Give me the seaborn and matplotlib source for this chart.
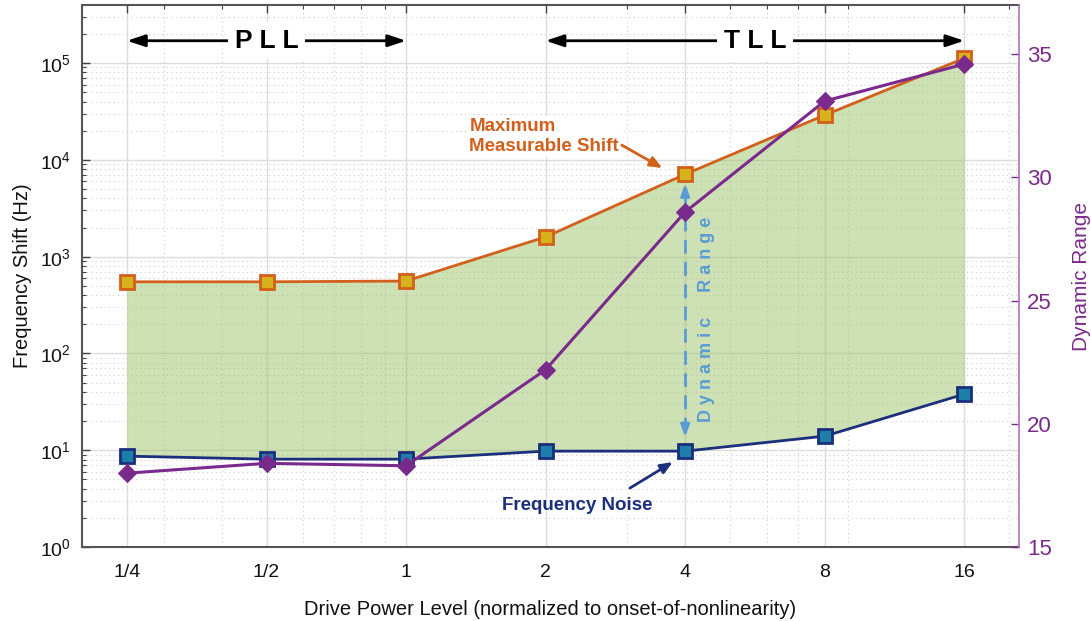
import numpy as np
import pandas as pd
import matplotlib
matplotlib.use("Agg")
import matplotlib.pyplot as plt
from matplotlib.ticker import FixedLocator, FixedFormatter, LogLocator, NullFormatter
import seaborn as sns

# ---------------- data ----------------
drive_power = [0.25, 0.5, 1, 2, 4, 8, 16]
drive_labels = ["1/4", "1/2", "1", "2", "4", "8", "16"]
max_shift = [550, 550, 560, 1600, 7100, 29000, 112000]      # Hz
freq_noise = [8.7, 8.1, 8.1, 9.8, 9.8, 14, 38]              # Hz
dynamic_range = [18.0, 18.4, 18.3, 22.2, 28.6, 33.1, 34.6]  # dB
right_ticks = [15, 20, 25, 30, 35]

df = pd.DataFrame({"power": drive_power, "max_shift": max_shift,
                   "noise": freq_noise, "dr": dynamic_range})

# ---------------- style ----------------
sns.set_theme(style="white")
plt.rcParams["font.family"] = ["Liberation Sans", "DejaVu Sans"]
plt.rcParams["mathtext.fontset"] = "custom"
plt.rcParams["mathtext.rm"] = "Liberation Sans"

ORANGE = "#d2601a"
ORANGE_FACE = "#d8b21c"
NAVY = "#1b2f7c"
NAVY_FACE = "#1d7fa8"
PURPLE = "#7a2a8c"
LIGHTBLUE = "#5b9bd5"
GREEN = "#9dc46a"

fig = plt.figure(figsize=(10.91, 6.21), dpi=100)
ax = fig.add_axes([0.0752, 0.119, 0.934 - 0.0752, 0.992 - 0.119])
ax2 = ax.twinx()

for a in (ax, ax2):
    a.set_xscale("log")
ax.set_yscale("log")

# fill between noise and max shift
ax.fill_between(df["power"], df["noise"], df["max_shift"], color=GREEN,
                alpha=0.5, lw=0, zorder=1)

sns.lineplot(data=df, x="power", y="max_shift", ax=ax, color=ORANGE, lw=2,
             marker="s", markersize=9.5, markerfacecolor=ORANGE_FACE,
             markeredgecolor=ORANGE, markeredgewidth=2, zorder=3)
sns.lineplot(data=df, x="power", y="noise", ax=ax, color=NAVY, lw=2,
             marker="s", markersize=9.5, markerfacecolor=NAVY_FACE,
             markeredgecolor=NAVY, markeredgewidth=2, zorder=3)
sns.lineplot(data=df, x="power", y="dr", ax=ax2, color=PURPLE, lw=2.2,
             marker="D", markersize=9.5, markerfacecolor=PURPLE,
             markeredgecolor=PURPLE, zorder=4)

ax.set_xlim(0.2, 21)
ax.set_ylim(1, 10 ** 5.6)
ax2.set_ylim(15, 37)

# ticks (set after all plotting, since axes share x)
ax.xaxis.set_major_locator(FixedLocator(drive_power))
ax.xaxis.set_major_formatter(FixedFormatter(drive_labels))
ax.xaxis.set_minor_locator(LogLocator(base=10, subs=np.arange(2, 10), numticks=20))
ax.xaxis.set_minor_formatter(NullFormatter())
ax.yaxis.set_major_locator(LogLocator(base=10, numticks=10))
ax.yaxis.set_minor_locator(LogLocator(base=10, subs=np.arange(2, 10), numticks=20))
ax.yaxis.set_minor_formatter(NullFormatter())

# grid
ax.grid(True, which="major", color="#dcdcdc", lw=1.0, ls="-")
ax.grid(True, which="minor", color="#cfcfcf", lw=0.8, ls=(0, (1, 3)))
ax.set_axisbelow(True)

ax.tick_params(axis="both", which="major", direction="in", length=6, width=1,
               color="#444444", labelsize=14, labelcolor="#111111", top=True,
               pad=8)
ax.tick_params(axis="both", which="minor", direction="in", length=3, width=0.8,
               color="#444444", top=True)
ax.tick_params(axis="x", which="major", pad=12)
for sp in ["left", "bottom", "top"]:
    ax.spines[sp].set_color("#555555")
    ax.spines[sp].set_linewidth(1.5)
ax.spines["right"].set_visible(False)

ax.set_xlabel("Drive Power Level (normalized to onset-of-nonlinearity)",
              fontsize=14.5, color="#111111", labelpad=14)
ax.set_ylabel("Frequency Shift (Hz)", fontsize=14.5, color="#111111", labelpad=6)

# right axis
ax2.set_yticks(right_ticks)
ax2.tick_params(axis="y", direction="in", length=6, width=1, color=PURPLE,
                labelcolor=PURPLE, labelsize=16, pad=6)
ax2.grid(False)
for sp in ["left", "bottom", "top"]:
    ax2.spines[sp].set_visible(False)
ax2.spines["right"].set_color("#b070c0")
ax2.spines["right"].set_linewidth(1.2)
ax2.set_ylabel("Dynamic Range", color=PURPLE, fontsize=15, labelpad=14)
ax2.set_xlabel("")

# ---------------- annotations ----------------
arrow_kw = dict(arrowstyle="<|-|>,head_length=0.9,head_width=0.3", color="black", lw=2,
                shrinkA=0, shrinkB=0)
PLL_SPAN = (0.25, 1)
TLL_SPAN = (2, 16)
BAND_Y = 1.7e5
ax.annotate("", xy=(PLL_SPAN[0], BAND_Y), xytext=(PLL_SPAN[1], BAND_Y),
            arrowprops=arrow_kw, zorder=5)
ax.annotate("", xy=(TLL_SPAN[0], BAND_Y), xytext=(TLL_SPAN[1], BAND_Y),
            arrowprops=arrow_kw, zorder=5)
ax.text(np.sqrt(PLL_SPAN[0] * PLL_SPAN[1]), BAND_Y, "P L L", ha="center", va="center",
        fontsize=19, fontweight="bold", color="black", zorder=6,
        bbox=dict(boxstyle="square,pad=0.25", fc="white", ec="none"))
ax.text(np.sqrt(TLL_SPAN[0] * TLL_SPAN[1]), BAND_Y, "T L L", ha="center", va="center",
        fontsize=19, fontweight="bold", color="black", zorder=6,
        bbox=dict(boxstyle="square,pad=0.25", fc="white", ec="none"))

# Maximum Measurable Shift label
ax.text(1.37, 1.75e4, "Maximum\nMeasurable Shift", ha="left", va="center",
        fontsize=13.5, fontweight="bold", color=ORANGE, linespacing=1.25, zorder=6,
        bbox=dict(boxstyle="square,pad=0.1", fc="white", ec="none"))
ax.annotate("", xy=(3.57, 8230), xytext=(2.92, 1.42e4),
            arrowprops=dict(arrowstyle="-|>,head_length=0.6,head_width=0.25",
                            color=ORANGE, lw=2, shrinkA=0, shrinkB=0), zorder=6)

# Frequency Noise label
ax.text(2.34, 2.7, "Frequency Noise", ha="center", va="center",
        fontsize=13.5, fontweight="bold", color=NAVY, zorder=6)
ax.annotate("", xy=(3.76, 7.55), xytext=(3.04, 4.07),
            arrowprops=dict(arrowstyle="-|>,head_length=0.6,head_width=0.25",
                            color=NAVY, lw=2, shrinkA=0, shrinkB=0), zorder=6)

# Dynamic Range arrow
DR_X = 4
DR_TOP = 5700
DR_BOT = 13.7
ax.plot([DR_X, DR_X], [DR_BOT * 1.15, DR_TOP / 1.15], color=LIGHTBLUE, lw=2,
        ls=(0, (5, 3)), zorder=3.5)
ax.annotate("", xy=(DR_X, DR_TOP), xytext=(DR_X, DR_TOP / 1.3),
            arrowprops=dict(arrowstyle="-|>,head_length=0.6,head_width=0.22",
                            color=LIGHTBLUE, lw=2, shrinkA=0, shrinkB=0), zorder=3.5)
ax.annotate("", xy=(DR_X, DR_BOT), xytext=(DR_X, DR_BOT * 1.3),
            arrowprops=dict(arrowstyle="-|>,head_length=0.6,head_width=0.22",
                            color=LIGHTBLUE, lw=2, shrinkA=0, shrinkB=0), zorder=3.5)
ax.text(4.45, np.sqrt(DR_TOP * DR_BOT) * 0.8, "D y n a m i c     R a n g e", rotation=90,
        ha="center", va="center", fontsize=13, color=LIGHTBLUE, fontweight="bold",
        zorder=6)

fig.savefig("out.png", dpi=100)
